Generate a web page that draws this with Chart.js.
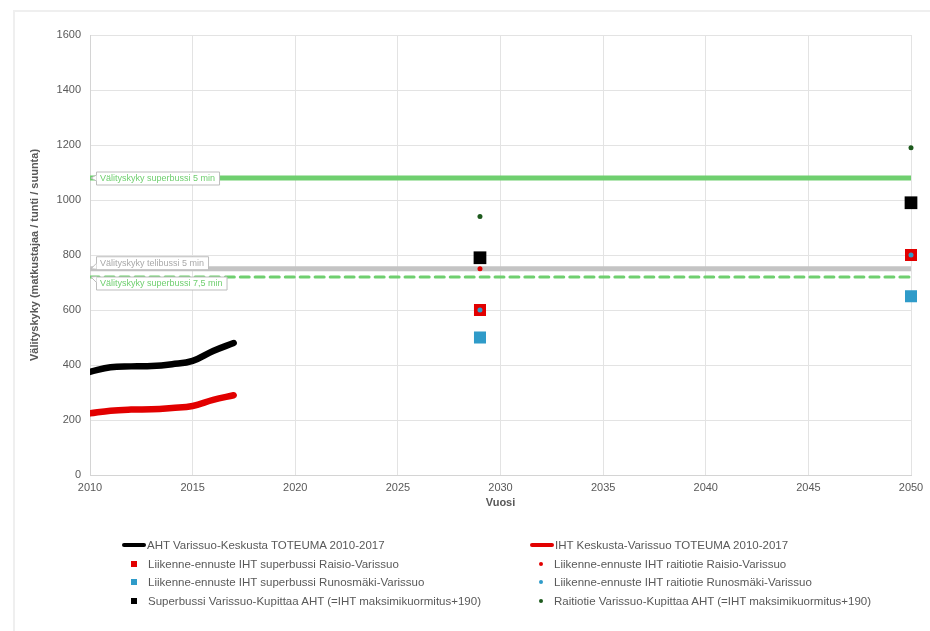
<!DOCTYPE html>
<html>
<head>
<meta charset="utf-8">
<title>Välityskyky</title>
<script src="https://cdn.jsdelivr.net/npm/chart.js@4/dist/chart.umd.min.js"></script>
<style>
  body { margin: 0; background: #fff; font-family: "Liberation Sans", Arial, sans-serif; }
  #wrap { position: relative; width: 930px; height: 631px; overflow: hidden; }
  #frame { position: absolute; left: 13px; top: 10px; width: 940px; height: 640px; border: 2px solid #efefef; box-sizing: border-box; }
  #chart { position: absolute; left: 0; top: 0; }
  .lg { position: absolute; font-size: 11.5px; color: #595959; white-space: nowrap; line-height: 14px; }
  .sw { position: absolute; }
</style>
</head>
<body>
<div id="wrap">
  <div id="frame"></div>
  <canvas id="chart" width="930" height="631"></canvas>
  <div id="legend"></div>
</div>
<script>
// toteuma 2010-2017
const years = [2010, 2011, 2012, 2013, 2014, 2015, 2016, 2017];
const ahtToteuma = [375, 392, 395, 396, 403, 415, 451, 480];
const ihtToteuma = [224, 234, 238, 239, 244, 251, 273, 290];

// ennusteet
const forecastYears = [2029, 2050];
const superRaisio = [600, 800];
const superRunosmaki = [500, 650];
const superKupittaa = [790, 990];
const raitioRaisio = [750, 800];
const raitioRunosmaki = [600, 800];
const raitioKupittaa = [940, 1190];

// välityskyvyt
const capYears = [2010, 2050];
const capSuper5 = 1080;
const capTeli5 = 750;
const capSuper75 = 720;

const capNames = ["Välityskyky superbussi 5 min", "Välityskyky telibussi 5 min", "Välityskyky superbussi 7,5 min"];
const capValues = [capSuper5, capTeli5, capSuper75];

const seriesNames = [
  "AHT Varissuo-Keskusta TOTEUMA 2010-2017",
  "IHT Keskusta-Varissuo TOTEUMA 2010-2017",
  "Liikenne-ennuste IHT superbussi Raisio-Varissuo",
  "Liikenne-ennuste IHT raitiotie Raisio-Varissuo",
  "Liikenne-ennuste IHT superbussi Runosmäki-Varissuo",
  "Liikenne-ennuste IHT raitiotie Runosmäki-Varissuo",
  "Superbussi Varissuo-Kupittaa AHT (=IHT maksimikuormitus+190)",
  "Raitiotie Varissuo-Kupittaa AHT (=IHT maksimikuormitus+190)"
];

const GREEN = "#6fcf6f", GREY = "#c4c4c4", RED = "#e20000", BLUE = "#2f9bc9", DKGREEN = "#1d5a1d";

const pts = (xs, ys) => xs.map((x, i) => ({ x: x, y: ys[i] }));
const flat = v => capYears.map(x => ({ x: x, y: v }));

function lineSet(label, data, color, width, dash, order) {
  return { type: "line", label, data, borderColor: color, borderWidth: width, borderDash: dash || [],
    pointRadius: 0, tension: 0.4, borderCapStyle: "round", fill: false, order };
}
function markSet(label, data, color, style, radius, order) {
  return { type: "scatter", label, data, backgroundColor: color, borderColor: color, borderWidth: 0,
    pointStyle: style, pointRadius: radius, pointHoverRadius: radius, order, clip: false };
}

// labels for the capacity lines, boxed with a little pointer
const capLabelPlugin = {
  id: "capLabels",
  afterDatasetsDraw(chart) {
    const ctx = chart.ctx, xs = chart.scales.x, ys = chart.scales.y;
    const x0 = xs.getPixelForValue(2010);
    const colors = [GREEN, "#a9a9a9", GREEN];
    const shift = [0, -6, 6]; // box centre relative to the line
    ctx.save();
    ctx.font = "9px 'Liberation Sans', Arial, sans-serif";
    ctx.textBaseline = "middle";
    capValues.forEach((v, i) => {
      const ly = ys.getPixelForValue(v);
      const cy = ly + shift[i];
      const w = ctx.measureText(capNames[i]).width + 8, h = 13;
      const bx = x0 + 6, by = cy - h / 2;
      ctx.fillStyle = "#fff";
      ctx.strokeStyle = "#bdbdbd";
      ctx.lineWidth = 1;
      ctx.beginPath();
      ctx.rect(bx + 0.5, by + 0.5, w, h);
      ctx.fill();
      ctx.stroke();
      // pointer
      const py = i === 0 ? cy : (i === 1 ? by + h - 3 : by + 3);
      ctx.beginPath();
      ctx.moveTo(bx + 0.5, py - 3);
      ctx.lineTo(x0 + 1, ly);
      ctx.lineTo(bx + 0.5, py + 3);
      ctx.closePath();
      ctx.fill();
      ctx.beginPath();
      ctx.moveTo(bx + 0.5, py - 3);
      ctx.lineTo(x0 + 1, ly);
      ctx.lineTo(bx + 0.5, py + 3);
      ctx.stroke();
      ctx.fillStyle = colors[i];
      ctx.fillText(capNames[i], bx + 4, cy + 1);
    });
    ctx.restore();
  }
};

const tickFont = { family: "'Liberation Sans', Arial, sans-serif", size: 11 };
const titleFont = { family: "'Liberation Sans', Arial, sans-serif", size: 11, weight: "bold" };

new Chart(document.getElementById("chart"), {
  data: {
    datasets: [
      markSet(seriesNames[3], pts(forecastYears, raitioRaisio), RED, "circle", 2.5, 1),
      markSet(seriesNames[5], pts(forecastYears, raitioRunosmaki), BLUE, "circle", 2.5, 0),
      markSet(seriesNames[7], pts(forecastYears, raitioKupittaa), DKGREEN, "circle", 2.5, 2),
      markSet(seriesNames[2], pts(forecastYears, superRaisio), RED, "rect", 8.5, 3),
      markSet(seriesNames[4], pts(forecastYears, superRunosmaki), BLUE, "rect", 8.5, 4),
      markSet(seriesNames[6], pts(forecastYears, superKupittaa), "#000", "rect", 9, 5),
      lineSet(seriesNames[0], pts(years, ahtToteuma), "#000", 6.5, null, 6),
      lineSet(seriesNames[1], pts(years, ihtToteuma), RED, 6.5, null, 7),
      lineSet(capNames[1], flat(capTeli5), GREY, 5, null, 8),
      lineSet(capNames[2], flat(capSuper75), GREEN, 3, [9, 6], 9),
      lineSet(capNames[0], flat(capSuper5), GREEN, 5, null, 10)
    ]
  },
  options: {
    responsive: false,
    devicePixelRatio: 1,
    animation: false,
    layout: { padding: { left: 14, top: 35, right: 19, bottom: 115 } },
    plugins: { legend: { display: false }, tooltip: { enabled: false } },
    scales: {
      x: {
        type: "linear", min: 2010, max: 2050,
        ticks: { stepSize: 5, color: "#595959", font: tickFont, padding: 6, maxRotation: 0, callback: v => String(v) },
        grid: { color: "#e3e3e3", drawTicks: false },
        border: { color: "#d4d4d4" },
        title: { display: true, text: "Vuosi", color: "#595959", font: titleFont, padding: { top: 4, bottom: 6 } },
        afterFit: s => { s.height = 41; }
      },
      y: {
        type: "linear", min: 0, max: 1600,
        ticks: { stepSize: 200, color: "#595959", font: tickFont, padding: 9, callback: v => String(v) },
        grid: { color: "#e3e3e3", drawTicks: false },
        border: { color: "#d4d4d4" },
        title: { display: true, text: "Välityskyky (matkustajaa / tunti / suunta)", color: "#595959", font: titleFont, padding: { top: 14, bottom: 4 } },
        afterFit: s => { s.width = 76; }
      }
    }
  },
  plugins: [capLabelPlugin]
});

// legend, two columns like the original
const legendRows = [
  [{ name: seriesNames[0], kind: "line", color: "#000" }, { name: seriesNames[1], kind: "line", color: RED }],
  [{ name: seriesNames[2], kind: "rect", color: RED }, { name: seriesNames[3], kind: "dot", color: RED }],
  [{ name: seriesNames[4], kind: "rect", color: BLUE }, { name: seriesNames[5], kind: "dot", color: BLUE }],
  [{ name: seriesNames[6], kind: "rect", color: "#000" }, { name: seriesNames[7], kind: "dot", color: DKGREEN }]
];
const legend = document.getElementById("legend");
const rowY = [545, 564, 582, 601];
const colX = [122, 530];
let html = "";
legendRows.forEach((row, r) => {
  row.forEach((item, c) => {
    const cy = rowY[r], lx = colX[c];
    if (item.kind === "line") {
      html += `<div class="sw" style="left:${lx}px;top:${cy - 2}px;width:24px;height:4px;border-radius:2px;background:${item.color}"></div>`;
      html += `<div class="lg" style="left:${lx + 25}px;top:${cy - 7}px">${item.name}</div>`;
    } else if (item.kind === "rect") {
      html += `<div class="sw" style="left:${lx + 9}px;top:${cy - 3}px;width:6px;height:6px;background:${item.color}"></div>`;
      html += `<div class="lg" style="left:${lx + 26}px;top:${cy - 7}px">${item.name}</div>`;
    } else {
      html += `<div class="sw" style="left:${lx + 9}px;top:${cy - 2}px;width:4px;height:4px;border-radius:2px;background:${item.color}"></div>`;
      html += `<div class="lg" style="left:${lx + 24}px;top:${cy - 7}px">${item.name}</div>`;
    }
  });
});
legend.innerHTML = html;
</script>
</body>
</html>
